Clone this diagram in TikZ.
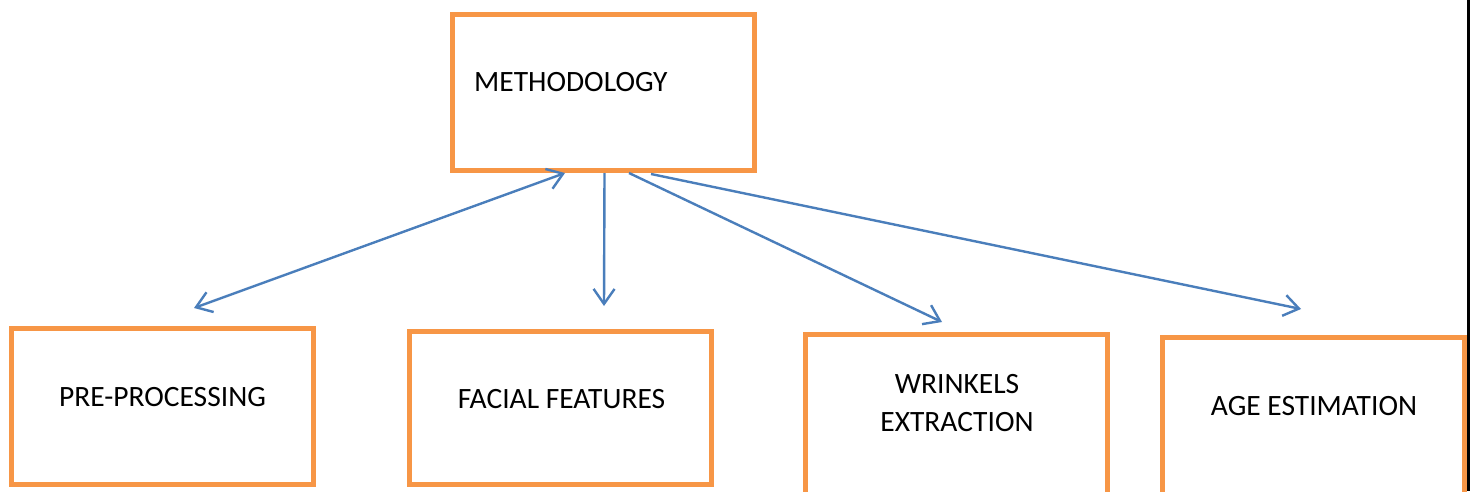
\documentclass[tikz,border=0pt]{standalone}
\usepackage{fontspec}
\setmainfont{Carlito}
\usetikzlibrary{arrows.meta}
\definecolor{boxorange}{HTML}{F79646}
\definecolor{linkblue}{HTML}{4A7EBB}
\begin{document}
\begin{tikzpicture}[x=1pt,y=-1pt,
  box/.style={draw=boxorange,line width=5pt,fill=white,minimum width=302pt,inner sep=0pt},
  caption/.style={font=\fontsize{29.5}{36}\selectfont,text=black,inner sep=0pt},
  link/.style={draw=linkblue,line width=2.4pt,-{Straight Barb[length=15pt,width=21pt,line width=2.4pt]}},
  twoway/.style={draw=linkblue,line width=2.4pt,{Straight Barb[length=15pt,width=21pt,line width=2.4pt]}-{Straight Barb[length=15pt,width=21pt,line width=2.4pt]}}]
\useasboundingbox (0,0) rectangle (1470,491);
\clip (0,0) rectangle (1470,491);
\fill[white] (0,0) rectangle (1470,491);

% boxes
\node[box,minimum height=156pt] (meth) at (603,92.5) {};
\node[box,minimum height=156pt] (pre) at (162.5,406.5) {};
\node[box,minimum height=153pt] (face) at (560.5,408) {};
\node[box,minimum height=170pt] (wrink) at (956.5,419.5) {};
\node[box,minimum height=170pt] (age) at (1313.5,422.5) {};

% captions
\node[caption,anchor=base west] (methtext) at (474,91) {METHODOLOGY};
\node[caption,anchor=base] (pretext) at (162.5,406) {PRE-PROCESSING};
\node[caption,anchor=base] (facetext) at (561.5,408) {FACIAL FEATURES};
\node[caption,anchor=base] (wrinktext) at (957,393) {WRINKELS};
\node[caption,anchor=base] (extrtext) at (957,431) {EXTRACTION};
\node[caption,anchor=base] (agetext) at (1314,415) {AGE ESTIMATION};

% free ends of the connectors
\coordinate (preend) at (194,308);
\coordinate (faceend) at (604,306);
\coordinate (wrinkend) at (942,322);
\coordinate (ageend) at (1301,309);

% connectors
\draw[twoway] (preend) -- ([xshift=-38pt]meth.south);
\draw[link] ([xshift=1.5pt]meth.south) -- (faceend);
\draw[link] ([xshift=26pt]meth.south) -- (wrinkend);
\draw[link] ([xshift=48pt,yshift=-1pt]meth.south) -- (ageend);

% page edge rule
\draw[black,line width=3pt] (1468.5,0) -- (1468.5,491);
\end{tikzpicture}
\end{document}
